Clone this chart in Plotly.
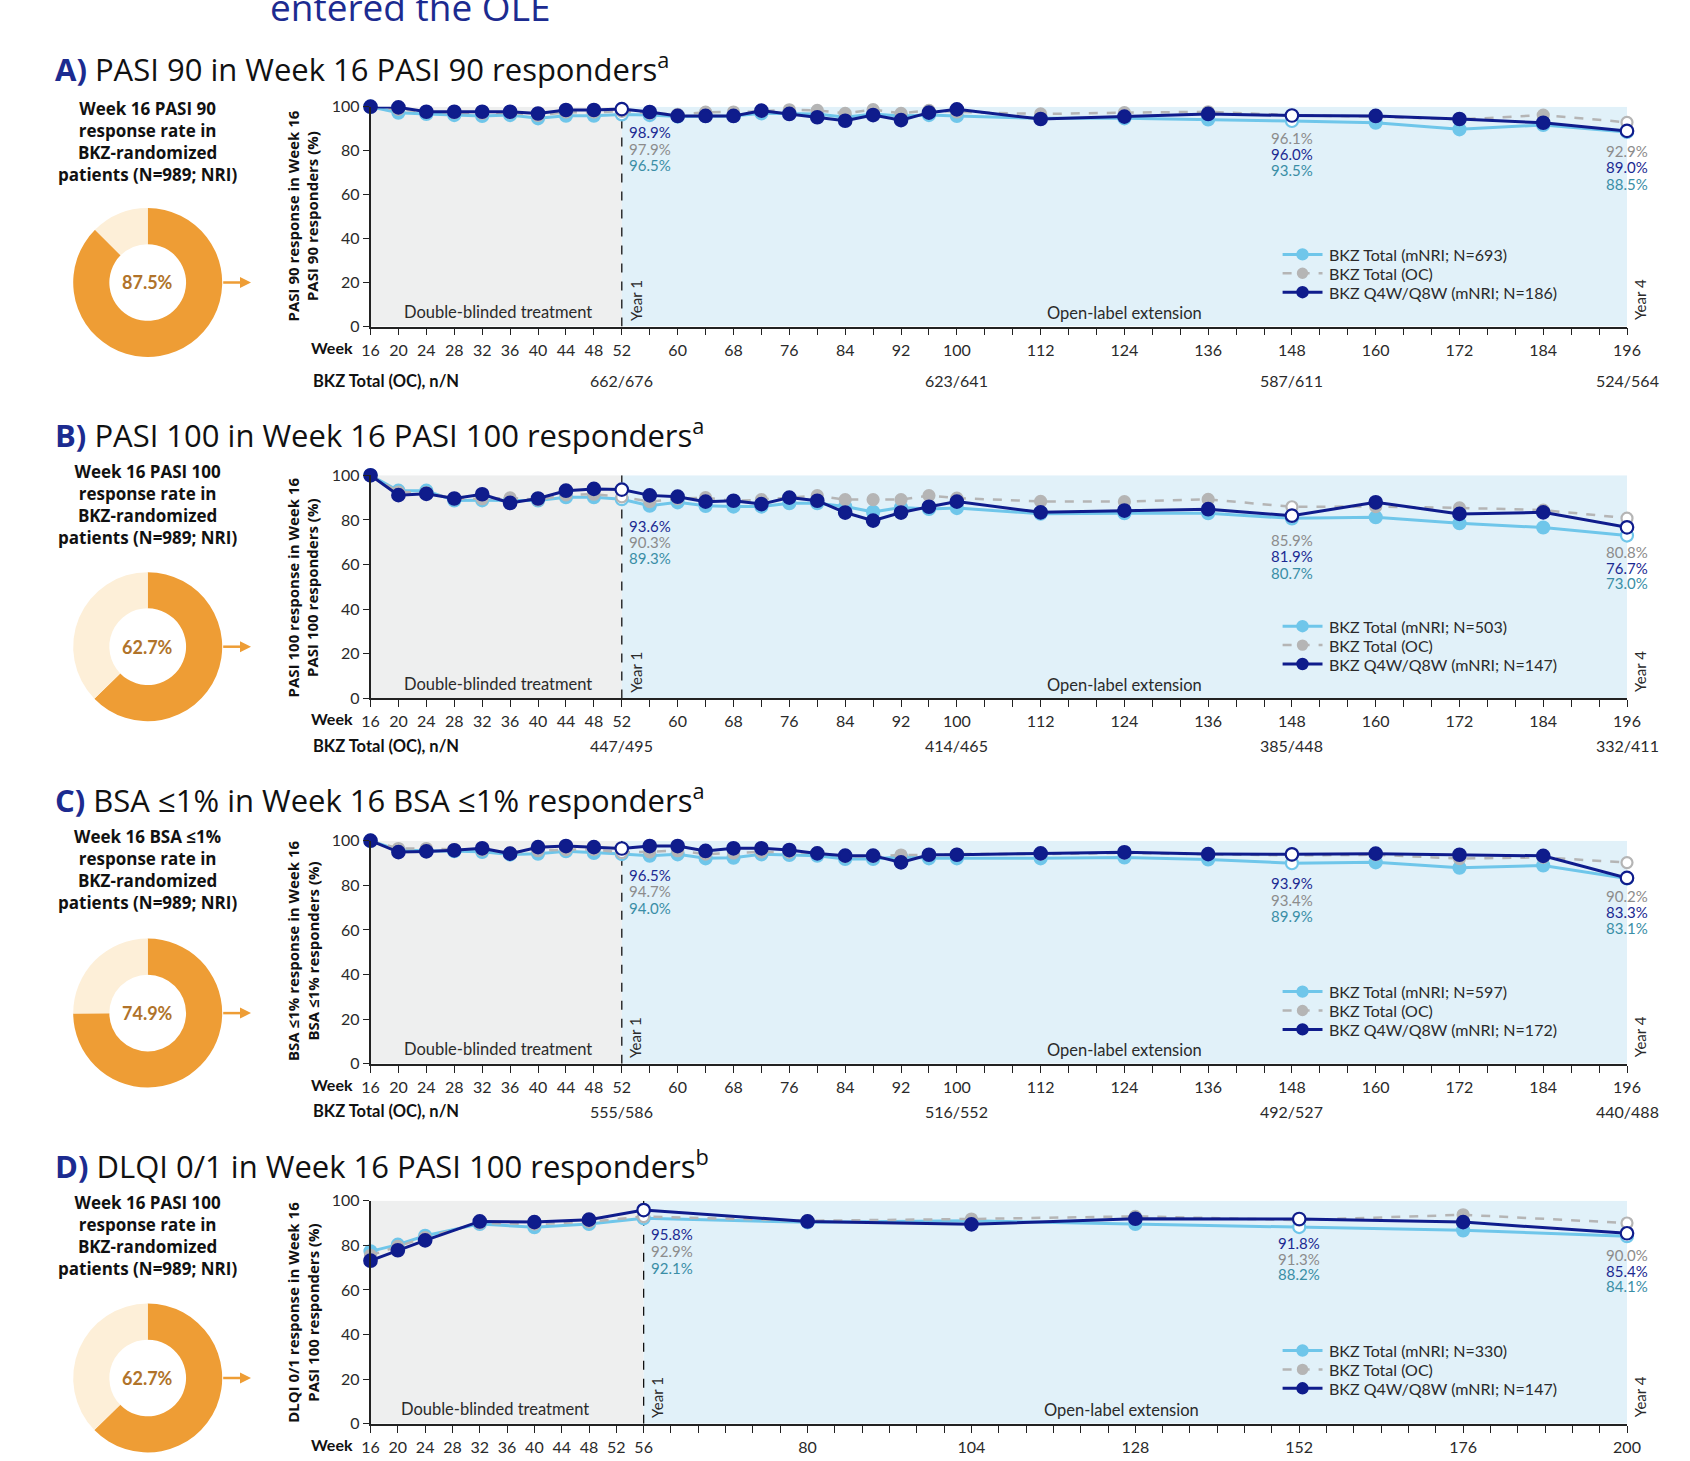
import plotly.graph_objects as go

W, H = 1690, 1461

# ---------------- data ----------------
weeks_abc = [16, 20, 24, 28, 32, 36, 40, 44, 48, 52, 56, 60, 64, 68, 72, 76, 80, 84, 88,
             92, 96, 100, 112, 124, 136, 148, 160, 172, 184, 196]
weeks_d = [16, 20, 24, 32, 40, 48, 56, 80, 104, 128, 152, 176, 200]

# A) PASI 90 in Week 16 PASI 90 responders
pasi90_total_mnri = [100, 97.3, 96.7, 96.2, 95.8, 96.2, 94.7, 95.9, 95.9, 96.5, 96.2, 95.5, 95.8, 95.8,
                     97.0, 97.0, 96.7, 95.2, 96.7, 95.8, 96.2, 95.8, 94.7, 94.7, 94.2, 93.5, 92.7,
                     89.7, 91.7, 88.5]
pasi90_total_oc = [100, 98.8, 97.6, 97.3, 97.0, 97.3, 96.0, 97.5, 97.5, 97.9, 97.0, 96.5, 97.5, 97.6,
                   97.9, 98.6, 98.3, 97.0, 98.7, 97.0, 98.3, 97.6, 96.7, 97.3, 97.7, 96.1, 95.5,
                   94.2, 96.2, 92.9]
pasi90_q4w_q8w = [100, 99.7, 97.7, 97.7, 97.7, 97.7, 96.9, 98.5, 98.5, 98.9, 97.6, 95.8, 95.8, 95.8,
                  98.2, 96.7, 95.2, 93.6, 96.2, 93.9, 97.3, 98.8, 94.4, 95.5, 96.7, 96.0, 95.8,
                  94.4, 92.7, 89.0]

# B) PASI 100 in Week 16 PASI 100 responders
pasi100_total_mnri = [100, 93.1, 93.1, 88.7, 88.8, 88.8, 88.7, 90.2, 90.2, 89.3, 86.4, 87.9, 86.3, 86.0,
                      86.0, 87.5, 87.5, 86.0, 83.6, 85.6, 84.9, 85.3, 82.8, 83.0, 83.0, 80.7, 81.2,
                      78.5, 76.6, 73.0]
pasi100_total_oc = [100, 92.5, 92.3, 89.5, 89.5, 89.9, 89.0, 91.2, 91.5, 90.3, 88.2, 89.5, 90.0, 88.5,
                    89.1, 90.0, 90.9, 89.1, 89.1, 89.1, 90.9, 89.8, 88.3, 88.2, 89.2, 85.9, 86.0,
                    85.4, 84.4, 80.8]
pasi100_q4w_q8w = [100, 91.1, 91.7, 89.6, 91.5, 87.6, 89.6, 93.1, 93.9, 93.6, 91.0, 90.4, 88.2, 88.6,
                   87.1, 90.0, 88.6, 83.3, 79.7, 83.3, 85.9, 88.2, 83.4, 84.2, 84.8, 81.9, 87.9,
                   82.7, 83.4, 76.7]

# C) BSA <=1% in Week 16 BSA <=1% responders
bsa_total_mnri = [100, 95.8, 95.5, 95.3, 95.0, 93.8, 94.2, 95.3, 94.5, 94.0, 93.3, 93.9, 92.1, 92.4,
                  93.9, 93.6, 93.3, 91.8, 91.8, 92.8, 92.1, 92.1, 92.1, 92.5, 91.6, 89.9, 90.3,
                  87.9, 88.9, 83.1]
bsa_total_oc = [100, 96.5, 96.5, 96.0, 95.8, 94.5, 95.5, 96.0, 96.0, 94.7, 95.0, 95.5, 94.0, 94.5,
                95.0, 94.8, 94.5, 93.0, 93.0, 93.6, 93.5, 94.0, 94.0, 94.5, 93.8, 93.4, 93.7,
                92.0, 92.5, 90.2]
bsa_q4w_q8w = [100, 94.9, 95.2, 95.7, 96.6, 94.2, 97.1, 97.6, 97.1, 96.5, 97.6, 97.6, 95.4, 96.6,
               96.6, 95.8, 94.3, 93.3, 93.3, 90.3, 93.7, 93.7, 94.3, 94.8, 94.0, 93.9, 94.2,
               93.7, 93.2, 83.3]

# D) DLQI 0/1 in Week 16 PASI 100 responders
dlqi_total_mnri = [77.3, 80.3, 84.3, 89.6, 88.1, 89.6, 92.1, 90.3, 91.0, 89.6, 88.2, 86.7, 84.1]
dlqi_total_oc = [75.5, 79.5, 83.5, 90.0, 89.5, 90.5, 92.9, 91.0, 91.8, 93.0, 91.3, 93.7, 90.0]
dlqi_q4w_q8w = [73.1, 77.8, 82.2, 90.7, 90.4, 91.5, 95.8, 90.7, 89.4, 91.9, 91.8, 90.4, 85.4]

# Week 16 response rates in BKZ-randomized patients (donuts)
week16_rates = [87.5, 62.7, 74.9, 62.7]

# BKZ Total (OC) n/N rows
nn_weeks = [52, 100, 148, 196]
nn_pasi90 = ["662/676", "623/641", "587/611", "524/564"]
nn_pasi100 = ["447/495", "414/465", "385/448", "332/411"]
nn_bsa = ["555/586", "516/552", "492/527", "440/488"]

labeled_abc = [16, 20, 24, 28, 32, 36, 40, 44, 48, 52, 60, 68, 76, 84, 92, 100,
               112, 124, 136, 148, 160, 172, 184, 196]
labeled_d = [16, 20, 24, 28, 32, 36, 40, 44, 48, 52, 56, 80, 104, 128, 152, 176, 200]

# ---------------- styling ----------------
FONT = "Lato"
TFONT = "Open Sans"
NAVY = "#0f1c8c"
LIGHT = "#6fc6ea"
GREY = "#b5b5b5"
LBL_NAVY = "#1b2a92"
LBL_GREY = "#8c8c8c"
LBL_TEAL = "#3a8ea6"
TXT = "#2a2a2a"
ORANGE = "#ee9d35"
ORANGE_LIGHT = "#fdefd8"
ORANGE_TXT = "#b0732a"
TITLE_BLUE = "#1c2b90"

X_LEFT, X_RIGHT = 370.5, 1627.0


def px(x):
    return x / W


def py(y):
    return 1 - y / H


panels = [
    dict(letter="A", title="PASI 90 in Week 16 PASI 90 responders", sup="a",
         weeks=weeks_abc, total=pasi90_total_mnri, oc=pasi90_total_oc, q4w=pasi90_q4w_q8w,
         names=["BKZ Total (mNRI; N=693)", "BKZ Total (OC)", "BKZ Q4W/Q8W (mNRI; N=186)"],
         ytitle="PASI 90 response in Week 16<br>PASI 90 responders (%)",
         donut_text="Week 16 PASI 90<br>response rate in<br>BKZ-randomized<br>patients (N=989; NRI)",
         top=106.7, bot=326.6, title_y=68, donut_y=282.5, dtext_y=141.2, ytitle_y=216.5,
         legend_y=254.4, nn=nn_pasi90, nn_y=380.5, end=196, year1=52, ole_x=124,
         groups=[(52, "left", [131.5, 148.7, 164.9]), (148, "center", [138, 154.1, 170.3]),
                 (196, "center", [150.9, 167, 184.3])]),
    dict(letter="B", title="PASI 100 in Week 16 PASI 100 responders", sup="a",
         weeks=weeks_abc, total=pasi100_total_mnri, oc=pasi100_total_oc, q4w=pasi100_q4w_q8w,
         names=["BKZ Total (mNRI; N=503)", "BKZ Total (OC)", "BKZ Q4W/Q8W (mNRI; N=147)"],
         ytitle="PASI 100 response in Week 16<br>PASI 100 responders (%)",
         donut_text="Week 16 PASI 100<br>response rate in<br>BKZ-randomized<br>patients (N=989; NRI)",
         top=475.3, bot=698.4, title_y=433.3, donut_y=646.7, dtext_y=504.6, ytitle_y=587.4,
         legend_y=626.2, nn=nn_pasi100, nn_y=745.8, end=196, year1=52, ole_x=124,
         groups=[(52, "left", [526, 542.1, 558.3]), (148, "center", [540, 556.1, 573.4]),
                 (196, "center", [551.8, 568, 583.1])]),
    dict(letter="C", title="BSA ≤1% in Week 16 BSA ≤1% responders", sup="a",
         weeks=weeks_abc, total=bsa_total_mnri, oc=bsa_total_oc, q4w=bsa_q4w_q8w,
         names=["BKZ Total (mNRI; N=597)", "BKZ Total (OC)", "BKZ Q4W/Q8W (mNRI; N=172)"],
         ytitle="BSA ≤1% response in Week 16<br>BSA ≤1% responders (%)",
         donut_text="Week 16 BSA ≤1%<br>response rate in<br>BKZ-randomized<br>patients (N=989; NRI)",
         top=840.7, bot=1063.8, title_y=798.6, donut_y=1013.1, dtext_y=869.8, ytitle_y=951,
         legend_y=991.6, nn=nn_bsa, nn_y=1111.2, end=196, year1=52, ole_x=124,
         groups=[(52, "left", [875.2, 891.3, 907.5]), (148, "center", [882.7, 900, 916.1]),
                 (196, "center", [895.7, 911.8, 928])]),
    dict(letter="D", title="DLQI 0/1 in Week 16 PASI 100 responders", sup="b",
         weeks=weeks_d, total=dlqi_total_mnri, oc=dlqi_total_oc, q4w=dlqi_q4w_q8w,
         names=["BKZ Total (mNRI; N=330)", "BKZ Total (OC)", "BKZ Q4W/Q8W (mNRI; N=147)"],
         ytitle="DLQI 0/1 response in Week 16<br>PASI 100 responders (%)",
         donut_text="Week 16 PASI 100<br>response rate in<br>BKZ-randomized<br>patients (N=989; NRI)",
         top=1200.7, bot=1423.8, title_y=1164, donut_y=1378, dtext_y=1235.7, ytitle_y=1312.8,
         legend_y=1350.5, nn=None, nn_y=None, end=200, year1=56, ole_x=126,
         groups=[(56, "left", [1234, 1251.3, 1267.5]), (152, "center", [1242.7, 1258.9, 1274]),
                 (200, "center", [1254.6, 1270.7, 1285.8])]),
]

fig = go.Figure()
layout = dict(width=W, height=H, margin=dict(l=0, r=0, t=0, b=0, autoexpand=False),
              paper_bgcolor="white", plot_bgcolor="rgba(0,0,0,0)", showlegend=False)
shapes, annotations = [], []

# figure heading (continuation line)
annotations.append(dict(text="entered the OLE", x=px(268), y=py(6.5), xref="paper", yref="paper",
                        xanchor="left", yanchor="middle", showarrow=False,
                        font=dict(family=TFONT, size=37, color=TITLE_BLUE)))

for i, p in enumerate(panels):
    n = i + 1
    xa = "x" if n == 1 else f"x{n}"
    ya = "y" if n == 1 else f"y{n}"
    highlight = [g[0] for g in p["groups"]]
    labeled = labeled_d if p["letter"] == "D" else labeled_abc
    ticks = list(range(16, p["end"] + 1, 4))

    layout["xaxis" if n == 1 else f"xaxis{n}"] = dict(
        domain=[px(X_LEFT), px(X_RIGHT)], range=[16, p["end"]], anchor=ya,
        showline=True, linecolor="#222", linewidth=1.5, ticks="outside", ticklen=7,
        tickwidth=1.3, tickcolor="#222", tickvals=ticks,
        ticktext=[str(t) if t in labeled else "" for t in ticks],
        tickfont=dict(family=FONT, size=16, color=TXT), showgrid=False, zeroline=False,
        ticklabelstandoff=1)
    layout["yaxis" if n == 1 else f"yaxis{n}"] = dict(
        domain=[py(p["bot"]), py(p["top"])], range=[0, 100], anchor=xa,
        showline=True, linecolor="#222", linewidth=1.5, ticks="outside", ticklen=6,
        tickwidth=1.3, tickcolor="#222", tickvals=[0, 20, 40, 60, 80, 100],
        tickfont=dict(family=FONT, size=16, color=TXT), showgrid=False, zeroline=False)

    # study periods
    shapes.append(dict(type="rect", xref=xa, yref=ya, x0=16, x1=p["year1"], y0=0, y1=100,
                       fillcolor="#eeefef", line=dict(width=0), layer="below"))
    shapes.append(dict(type="rect", xref=xa, yref=ya, x0=p["year1"], x1=p["end"], y0=0, y1=100,
                       fillcolor="#e1f1f9", line=dict(width=0), layer="below"))
    shapes.append(dict(type="line", xref=xa, yref=ya, x0=p["year1"], x1=p["year1"], y0=0, y1=100,
                       line=dict(color="#111", width=1.3, dash="dash"), layer="below"))

    series = [
        (p["total"], LIGHT, "solid", 12, 3, p["names"][0], LBL_TEAL),
        (p["oc"], GREY, "dash", 11, 2.5, p["names"][1], LBL_GREY),
        (p["q4w"], NAVY, "solid", 12.5, 3, p["names"][2], LBL_NAVY),
    ]
    for vals, col, dash, size, lw, name, _ in series:
        fills = ["white" if w in highlight else col for w in p["weeks"]]
        fig.add_trace(go.Scatter(
            x=p["weeks"], y=vals, mode="lines+markers", name=name, xaxis=xa, yaxis=ya,
            cliponaxis=False,
            line=dict(color=col, width=lw, dash=dash),
            marker=dict(size=size, color=fills, line=dict(color=col, width=2.2)),
            hoverinfo="skip"))

    # key for the three series
    for k, (vals, col, dash, size, lw, name, _) in enumerate(series):
        ly = p["legend_y"] + k * 18.9
        shapes.append(dict(type="line", xref="paper", yref="paper", x0=px(1282.6), x1=px(1322.5),
                           y0=py(ly), y1=py(ly), line=dict(color=col, width=lw, dash=dash)))
        rr = 6.2 if k != 1 else 5.7
        shapes.append(dict(type="circle", xref="paper", yref="paper",
                           x0=px(1302.5 - rr), x1=px(1302.5 + rr), y0=py(ly + rr), y1=py(ly - rr),
                           fillcolor=col, line=dict(width=0)))
        annotations.append(dict(text=name, x=px(1327), y=py(ly), xref="paper", yref="paper",
                                xanchor="left", yanchor="middle", showarrow=False,
                                font=dict(family=FONT, size=16, color=TXT)))

    # value labels at highlighted weeks
    for wk, anchor, ys in p["groups"]:
        idx = p["weeks"].index(wk)
        entries = sorted([(s[0][idx], s[6]) for s in series], key=lambda e: -e[0])
        for (v, c), yy in zip(entries, ys):
            annotations.append(dict(text=f"{v:.1f}%", x=wk, xref=xa, y=py(yy), yref="paper",
                                    xanchor=anchor, yanchor="middle", showarrow=False,
                                    xshift=5 if anchor == "left" else 0,
                                    font=dict(family=FONT, size=15, color=c)))

    # panel title
    annotations.append(dict(
        text=f"<b><span style='color:{TITLE_BLUE}'>{p['letter']})</span></b> {p['title']}<sup>{p['sup']}</sup>",
        x=px(53), y=py(p["title_y"]), xref="paper", yref="paper", xanchor="left",
        yanchor="middle", showarrow=False, font=dict(family=TFONT, size=31, color="#111")))

    # y-axis title
    annotations.append(dict(text=f"<b>{p['ytitle']}</b>", x=px(303), y=py(p["ytitle_y"]),
                            xref="paper", yref="paper", xanchor="center", yanchor="middle",
                            textangle=-90, showarrow=False,
                            font=dict(family=TFONT, size=15, color="#111")))

    # period labels
    annotations.append(dict(text="Double-blinded treatment", x=34.3, xref=xa,
                            y=py(p["bot"] - 14.5), yref="paper", xanchor="center",
                            yanchor="middle", showarrow=False,
                            font=dict(family=FONT, size=16.5, color=TXT)))
    annotations.append(dict(text="Open-label extension", x=p["ole_x"], xref=xa,
                            y=py(p["bot"] - 13.5), yref="paper", xanchor="center",
                            yanchor="middle", showarrow=False,
                            font=dict(family=FONT, size=16.5, color=TXT)))
    annotations.append(dict(text="Year 1", x=p["year1"], xref=xa, xshift=14, y=py(p["bot"] - 4),
                            yref="paper", xanchor="center", yanchor="bottom", textangle=-90,
                            showarrow=False, font=dict(family=FONT, size=15, color=TXT)))
    annotations.append(dict(text="Year 4", x=p["end"], xref=xa, xshift=13, y=py(p["bot"] - 4),
                            yref="paper", xanchor="center", yanchor="bottom", textangle=-90,
                            showarrow=False, font=dict(family=FONT, size=15, color=TXT)))

    # "Week" row label
    annotations.append(dict(text="<b>Week</b>", x=px(355), y=py(p["bot"] + 20.5), xref="paper",
                            yref="paper", xanchor="right", yanchor="middle", showarrow=False,
                            font=dict(family=FONT, size=16, color="#111")))

    # n/N row
    if p["nn"] is not None:
        annotations.append(dict(text="<b>BKZ Total (OC), n/N</b>", x=px(311), y=py(p["nn_y"]),
                                xref="paper", yref="paper", xanchor="left", yanchor="middle",
                                showarrow=False, font=dict(family=FONT, size=16.5, color="#111")))
        for wk, t in zip(nn_weeks, p["nn"]):
            annotations.append(dict(text=t, x=wk, xref=xa, y=py(p["nn_y"]), yref="paper",
                                    xanchor="center", yanchor="middle", showarrow=False,
                                    font=dict(family=FONT, size=16, color=TXT)))

    # donut of Week 16 response rate
    cx, cy, r = 147.7, p["donut_y"], 74.5
    rate = week16_rates[i]
    fig.add_trace(go.Pie(values=[rate, 100 - rate], hole=0.515, sort=False, direction="clockwise",
                         rotation=0, marker=dict(colors=[ORANGE, ORANGE_LIGHT], line=dict(width=0)),
                         textinfo="none", hoverinfo="skip", showlegend=False,
                         domain=dict(x=[px(cx - r), px(cx + r)], y=[py(cy + r), py(cy - r)])))
    annotations.append(dict(text=f"<b>{rate:.1f}%</b>", x=px(cx), y=py(cy), xref="paper",
                            yref="paper", xanchor="center", yanchor="middle", showarrow=False,
                            font=dict(family=FONT, size=18, color=ORANGE_TXT)))
    annotations.append(dict(text=f"<b>{p['donut_text']}</b>", x=px(cx), y=py(p["dtext_y"]),
                            xref="paper", yref="paper", xanchor="center", yanchor="middle",
                            showarrow=False, font=dict(family=TFONT, size=17, color="#111")))
    # arrow from donut to the chart
    shapes.append(dict(type="line", xref="paper", yref="paper", x0=px(cx + r + 1), x1=px(244),
                       y0=py(cy), y1=py(cy), line=dict(color=ORANGE, width=2.5)))
    shapes.append(dict(type="path", xref="paper", yref="paper",
                       path=f"M {px(240)} {py(cy - 5.5)} L {px(251)} {py(cy)} L {px(240)} {py(cy + 5.5)} Z",
                       fillcolor=ORANGE, line=dict(width=0)))

layout["shapes"] = shapes
layout["annotations"] = annotations
fig.update_layout(**layout)
fig.write_html("out.html")
